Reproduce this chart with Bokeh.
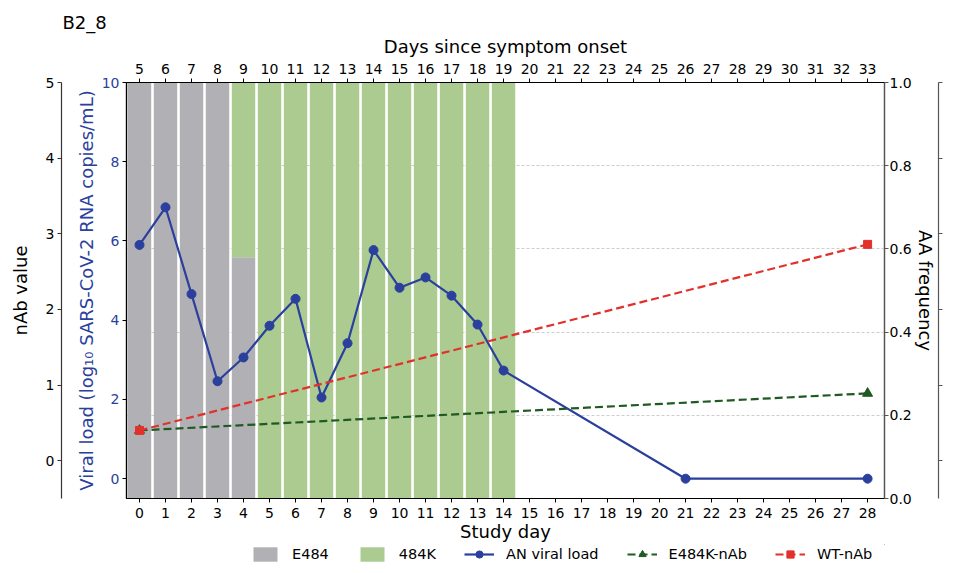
from bokeh.plotting import figure
from bokeh.layouts import column
from bokeh.models import (Range1d, LinearAxis, FixedTicker, Legend, LegendItem, Grid,
                          ColumnDataSource)
from bokeh.embed import file_html
from bokeh.resources import INLINE

# ---------------- data ----------------
study_day_ticks = list(range(0, 29))
onset_day_ticks = list(range(5, 34))

vl_days = [0, 1, 2, 3, 4, 5, 6, 7, 8, 9, 10, 11, 12, 13, 14, 21, 28]
vl_values = [5.90, 6.85, 4.66, 2.46, 3.06, 3.86, 4.54, 2.05, 3.42, 5.77,
             4.82, 5.08, 4.62, 3.89, 2.73, 0.0, 0.0]

nab_days = [0, 28]
wt_nab = [0.40, 2.86]
e484k_nab = [0.40, 0.89]

aa_days = list(range(0, 15))
e484_freq = [1.0, 1.0, 1.0, 1.0, 0.58, 0, 0, 0, 0, 0, 0, 0, 0, 0, 0]
k484_freq = [0.0, 0.0, 0.0, 0.0, 0.42, 1, 1, 1, 1, 1, 1, 1, 1, 1, 1]

vl_ticks = [0, 2, 4, 6, 8, 10]
nab_ticks = [0, 1, 2, 3, 4, 5]
aa_ticks = [0.0, 0.2, 0.4, 0.6, 0.8, 1.0]
aa_tick_labels = {0.0: "0.0", 0.2: "0.2", 0.4: "0.4", 0.6: "0.6", 0.8: "0.8", 1.0: "1.0"}

legend_labels = ["E484", "484K", "AN viral load", "E484K-nAb", "WT-nAb"]

# ---------------- style ----------------
FONT = "DejaVu Sans"
GRAY = "#b1b1b5"
GREEN = "#abcb91"
BLUE = "#2b3f9c"
DKGREEN = "#1f5a22"
RED = "#e2302a"
TICK_FS = "14px"
LABEL_FS = "18px"

fig = figure(frame_width=758, frame_height=416,
             x_range=Range1d(-0.5, 28.65), y_range=Range1d(-0.5, 10),
             output_backend="svg", toolbar_location=None,
             x_axis_location=None, y_axis_location=None,
             min_border_left=126, min_border_right=68,
             min_border_top=82, min_border_bottom=0)
fig.extra_y_ranges = {"nab": Range1d(-0.5, 5), "aa": Range1d(0, 1)}
fig.extra_x_ranges = {"onset": Range1d(4.5, 33.65)}
fig.outline_line_color = "black"
fig.outline_line_width = 1.2
fig.background_fill_color = "white"
fig.border_fill_color = "white"
for r in list(fig.center):
    if isinstance(r, Grid):
        r.visible = False

fig.title.text = "B2_8"
fig.title.text_font = FONT
fig.title.text_font_size = "18px"
fig.title.text_font_style = "normal"
fig.title.align = "left"
fig.title.offset = -64
fig.title.standoff = 0
fig.title.text_color = "black"


def style_axis(ax, color="black", label_color="black", fs=LABEL_FS):
    ax.major_label_text_font = FONT
    ax.major_label_text_font_size = TICK_FS
    ax.major_label_text_color = label_color
    ax.axis_label_text_font = FONT
    ax.axis_label_text_font_size = fs
    ax.axis_label_text_font_style = "normal"
    ax.axis_label_text_color = label_color
    ax.axis_line_color = color
    ax.axis_line_width = 1.2
    ax.major_tick_line_color = color
    ax.major_tick_out = 4
    ax.major_tick_in = 0
    ax.minor_tick_line_color = None


# left axes: viral load (inner), spacer, nAb (outer)
vl_axis = LinearAxis(axis_label="Viral load (log\u2081\u2080 SARS-CoV-2 RNA copies/mL)",
                     ticker=FixedTicker(ticks=vl_ticks))
style_axis(vl_axis, color="black", label_color=BLUE)
vl_axis.major_label_standoff = 3
vl_axis.axis_label_standoff = 2
fig.add_layout(vl_axis, "left")

spacer_l = LinearAxis(y_range_name="nab", ticker=FixedTicker(ticks=[]),
                      axis_line_color=None, major_tick_line_color=None,
                      minor_tick_line_color=None, major_tick_out=0, major_tick_in=0,
                      major_label_standoff=0, axis_label="\u00a0",
                      axis_label_text_font_size="1px", axis_label_standoff=7)
fig.add_layout(spacer_l, "left")

nab_axis = LinearAxis(y_range_name="nab", axis_label="nAb value",
                      ticker=FixedTicker(ticks=nab_ticks))
style_axis(nab_axis, color="#333333")
nab_axis.major_label_standoff = 3
nab_axis.axis_label_standoff = 12
fig.add_layout(nab_axis, "left")

# right axes: AA frequency (inner), duplicate nAb ticks (outer)
aa_axis = LinearAxis(y_range_name="aa", axis_label="AA frequency",
                     ticker=FixedTicker(ticks=aa_ticks),
                     major_label_overrides=aa_tick_labels)
style_axis(aa_axis, color="#555555")
aa_axis.major_label_standoff = 1
aa_axis.axis_label_standoff = 0
fig.add_layout(aa_axis, "right")

far_axis = LinearAxis(y_range_name="nab", ticker=FixedTicker(ticks=nab_ticks),
                      major_label_overrides={t: "" for t in nab_ticks})
style_axis(far_axis, color="#555555")
far_axis.major_tick_out = 4
fig.add_layout(far_axis, "right")

# bottom / top axes
x_axis = LinearAxis(axis_label="Study day", ticker=FixedTicker(ticks=study_day_ticks))
style_axis(x_axis)
x_axis.major_label_standoff = 5
x_axis.axis_label_standoff = 0
fig.add_layout(x_axis, "below")

top_axis = LinearAxis(x_range_name="onset", axis_label="Days since symptom onset",
                      ticker=FixedTicker(ticks=onset_day_ticks))
style_axis(top_axis)
top_axis.major_label_standoff = 5
top_axis.axis_label_standoff = 4
fig.add_layout(top_axis, "above")

# grid of AA frequency axis
grid = Grid(dimension=1, y_range_name="aa", ticker=FixedTicker(ticks=[0.2, 0.4, 0.6, 0.8]),
            grid_line_color="#c8c8c8", grid_line_dash="3 2", grid_line_width=0.9)
fig.add_layout(grid)

# stacked frequency bars
src = ColumnDataSource(dict(day=aa_days, e484=e484_freq, k484=k484_freq))
bars = fig.vbar_stack(["e484", "k484"], x="day", width=0.9, source=src,
                      fill_color=[GRAY, GREEN], line_color=None, y_range_name="aa")

# viral load
fig.line(vl_days, vl_values, line_color=BLUE, line_width=2.2)
fig.scatter(vl_days, vl_values, size=9, fill_color=BLUE, line_color=BLUE)

# nAb lines
fig.line(nab_days, e484k_nab, y_range_name="nab", line_color=DKGREEN,
         line_width=2.2, line_dash="8 4")
fig.scatter(nab_days, e484k_nab, y_range_name="nab", marker="triangle", size=10,
            fill_color=DKGREEN, line_color=DKGREEN)
fig.line(nab_days, wt_nab, y_range_name="nab", line_color=RED,
         line_width=2.2, line_dash="8 4")
fig.scatter(nab_days, wt_nab, y_range_name="nab", marker="square", size=8,
            fill_color=RED, line_color=RED)

# ---------------- legend strip below the chart ----------------
# proxies use the same data, but the strip's ranges keep them out of view
lf = figure(width=952, height=22,
            x_range=Range1d(-200, -199), y_range=Range1d(-200, -199),
            output_backend="svg", toolbar_location=None,
            x_axis_location=None, y_axis_location=None,
            min_border_left=0, min_border_right=0, min_border_top=0, min_border_bottom=0)
lf.outline_line_color = None
lf.background_fill_color = "white"
lf.border_fill_color = "white"
for r in list(lf.center):
    if isinstance(r, Grid):
        r.visible = False

lsrc = ColumnDataSource(dict(day=aa_days, e484=e484_freq, k484=k484_freq))
g_bars = lf.vbar_stack(["e484", "k484"], x="day", width=0.9, source=lsrc,
                       fill_color=[GRAY, GREEN], line_color=None)
g_vl_l = lf.line(vl_days, vl_values, line_color=BLUE, line_width=2.2)
g_vl_p = lf.scatter(vl_days, vl_values, size=9, fill_color=BLUE, line_color=BLUE)
g_ek_l = lf.line(nab_days, e484k_nab, line_color=DKGREEN, line_width=2.2, line_dash="8 4")
g_ek_p = lf.scatter(nab_days, e484k_nab, marker="triangle", size=10, fill_color=DKGREEN,
                    line_color=DKGREEN)
g_wt_l = lf.line(nab_days, wt_nab, line_color=RED, line_width=2.2, line_dash="8 4")
g_wt_p = lf.scatter(nab_days, wt_nab, marker="square", size=8, fill_color=RED,
                    line_color=RED)

legend = Legend(items=[
    LegendItem(label=legend_labels[0], renderers=[g_bars[0]]),
    LegendItem(label=legend_labels[1], renderers=[g_bars[1]]),
    LegendItem(label=legend_labels[2], renderers=[g_vl_l, g_vl_p]),
    LegendItem(label=legend_labels[3], renderers=[g_ek_l, g_ek_p]),
    LegendItem(label=legend_labels[4], renderers=[g_wt_l, g_wt_p]),
], orientation="horizontal", location=(124, 3))
legend.label_text_font = FONT
legend.label_text_font_size = "14.5px"
legend.label_text_color = "black"
legend.glyph_width = 30
legend.glyph_height = 18
legend.label_standoff = 12
legend.spacing = 28
legend.padding = 0
legend.margin = 0
legend.border_line_color = None
legend.background_fill_alpha = 0
lf.add_layout(legend, "center")

p = column(fig, lf, spacing=0)

open("out.html", "w").write(file_html(p, INLINE))
